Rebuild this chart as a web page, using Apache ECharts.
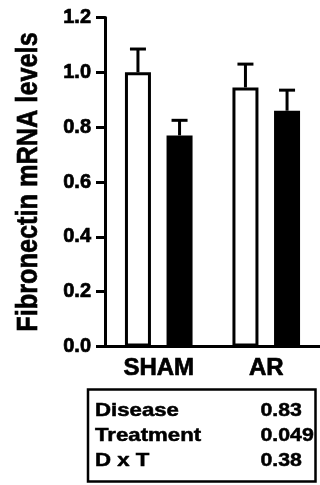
<!DOCTYPE html>
<html>
<head>
<meta charset="utf-8">
<script src="https://cdn.jsdelivr.net/npm/echarts@6/dist/echarts.min.js"></script>
<style>
  html, body { margin: 0; padding: 0; background: #fff; }
  #main { width: 320px; height: 485px; }
</style>
</head>
<body>
<div id="main"></div>
<script>
// data
const categories = ['SHAM', 'AR']
const whiteMeans = [1.0, 0.945]
const whiteErr = [0.085, 0.085]
const blackMeans = [0.77, 0.86]
const blackErr = [0.055, 0.075]
const yTicks = [0, 0.2, 0.4, 0.6, 0.8, 1.0, 1.2]
const statNames = ['Disease', 'Treatment', 'D x T']
const statValues = ['0.83', '0.049', '0.38']

const FONT = '"Liberation Sans", Arial, sans-serif'
const BAR_W = 26
const BAR_GAP = 0.6
// a thin outline makes the bold text a bit heavier, like the scan
const heavy = { textBorderColor: '#000', textBorderWidth: 0.7 }

const chart = echarts.init(document.getElementById('main'))

// error bar for one group, shifted sideways onto its bar
const makeErrSeries = (means, errs, side) => ({
  type: 'custom',
  z: 5,
  silent: true,
  data: means.map((m, i) => [i, m, m + errs[i]]),
  renderItem: (params, api) => {
    const off = side * (BAR_W + BAR_W * BAR_GAP) / 2
    const base = api.coord([api.value(0), api.value(1)])
    const top = api.coord([api.value(0), api.value(2)])
    const x = base[0] + off
    const style = { stroke: '#000', lineWidth: 3 }
    return {
      type: 'group',
      children: [
        { type: 'line', shape: { x1: x, y1: base[1], x2: x, y2: top[1] }, style },
        { type: 'line', shape: { x1: x - 8, y1: top[1], x2: x + 8, y2: top[1] }, style }
      ]
    }
  }
})

const tableGraphics = [
  {
    type: 'rect',
    shape: { x: 88, y: 389.5, width: 227.5, height: 92 },
    style: { fill: 'none', stroke: '#000', lineWidth: 2.5 }
  }
]
statNames.forEach((name, i) => {
  const y = 410.5 + i * 25.2
  tableGraphics.push({
    type: 'text', x: 95, y: y, scaleX: 1.2,
    style: { text: name, font: 'bold 18.5px ' + FONT, fill: '#000', align: 'left', verticalAlign: 'middle', stroke: '#000', lineWidth: 0.5 }
  })
  tableGraphics.push({
    type: 'text', x: 260.5, y: y, scaleX: 1.15,
    style: { text: statValues[i], font: 'bold 18.5px ' + FONT, fill: '#000', align: 'left', verticalAlign: 'middle', stroke: '#000', lineWidth: 0.5 }
  })
})

const option = {
  animation: false,
  backgroundColor: '#fff',
  grid: { left: 105, top: 17.5, width: 220, height: 329 },
  xAxis: {
    type: 'category',
    data: categories,
    axisLine: { lineStyle: { color: '#000', width: 3 } },
    axisTick: { alignWithLabel: true, length: 9, lineStyle: { color: '#000', width: 3 } },
    axisLabel: { color: '#000', fontSize: 24, fontWeight: 'bold', fontFamily: FONT, margin: 10, ...heavy }
  },
  yAxis: {
    type: 'value',
    min: yTicks[0],
    max: yTicks[yTicks.length - 1],
    interval: 0.2,
    splitLine: { show: false },
    axisLine: { show: true, lineStyle: { color: '#000', width: 3 } },
    axisTick: { show: true, length: 9, lineStyle: { color: '#000', width: 3 } },
    axisLabel: {
      color: '#000', fontSize: 20, fontWeight: 'bold', fontFamily: FONT, margin: 14, ...heavy,
      formatter: v => v.toFixed(1)
    }
  },
  graphic: [
    {
      type: 'text', x: 29, y: 182, rotation: Math.PI / 2, scaleY: 1.15,
      style: {
        text: 'Fibronectin mRNA levels', font: 'bold 25.3px ' + FONT, fill: '#000',
        align: 'center', verticalAlign: 'middle', stroke: '#000', lineWidth: 0.6
      }
    },
    ...tableGraphics
  ],
  series: [
    {
      type: 'bar',
      name: 'white',
      data: whiteMeans,
      barWidth: BAR_W,
      barGap: (BAR_GAP * 100) + '%',
      itemStyle: { color: '#fff', borderColor: '#000', borderWidth: 3 }
    },
    {
      type: 'bar',
      name: 'black',
      data: blackMeans,
      barWidth: BAR_W,
      barGap: (BAR_GAP * 100) + '%',
      itemStyle: { color: '#000', borderColor: '#000', borderWidth: 3 }
    },
    makeErrSeries(whiteMeans, whiteErr, -1),
    makeErrSeries(blackMeans, blackErr, 1)
  ]
}
chart.setOption(option)
</script>
</body>
</html>
